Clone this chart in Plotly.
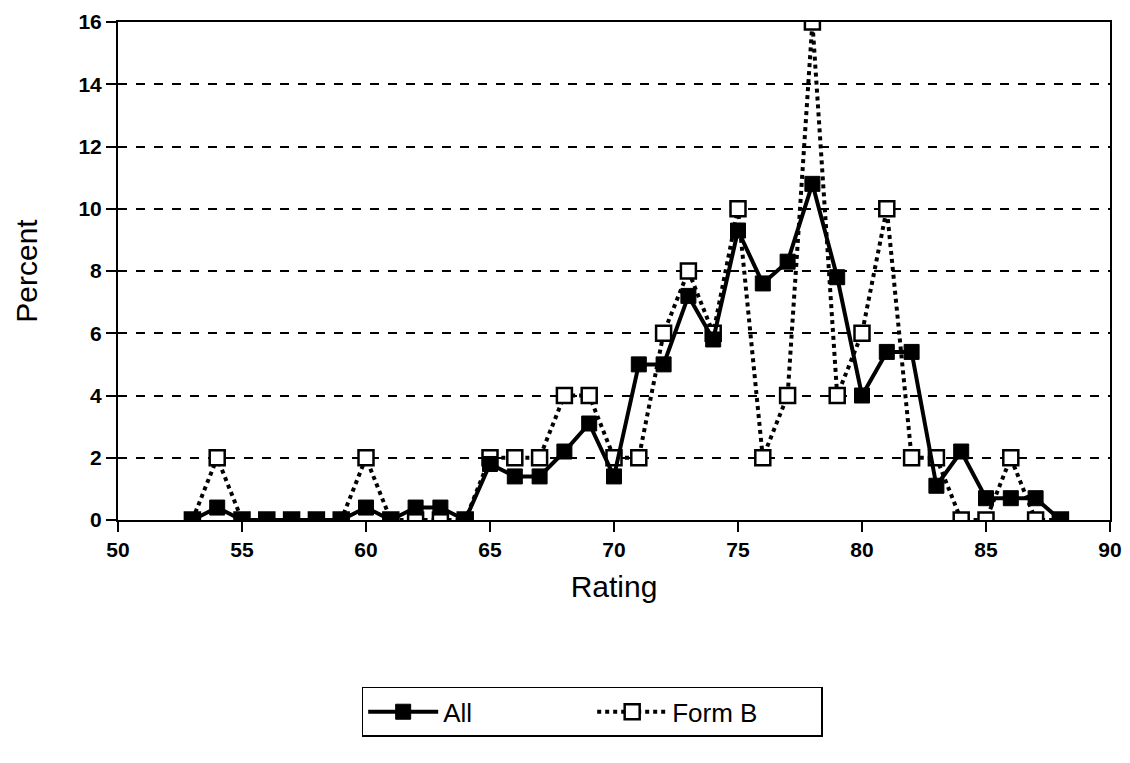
import plotly.graph_objects as go

ratings = list(range(53, 89))
all_pct = [0, 0.4, 0, 0, 0, 0, 0, 0.4, 0, 0.4, 0.4, 0, 1.8, 1.4, 1.4, 2.2, 3.1, 1.4,
           5.0, 5.0, 7.2, 5.8, 9.3, 7.6, 8.3, 10.8, 7.8, 4.0, 5.4, 5.4, 1.1, 2.2,
           0.7, 0.7, 0.7, 0]
formb_pct = [0, 2, 0, 0, 0, 0, 0, 2, 0, 0, 0, 0, 2, 2, 2, 4, 4, 2,
             2, 6, 8, 6, 10, 2, 4, 16, 4, 6, 10, 2, 2, 0,
             0, 2, 0, 0]
x_ticks = [50, 55, 60, 65, 70, 75, 80, 85, 90]
y_ticks = [0, 2, 4, 6, 8, 10, 12, 14, 16]

fig = go.Figure()
fig.add_trace(go.Scatter(
    x=ratings, y=formb_pct, name="Form B", mode="lines+markers",
    line=dict(color="black", width=4, dash="dot"),
    marker=dict(symbol="square", size=15, color="white",
                line=dict(color="black", width=2.5)),
))
fig.add_trace(go.Scatter(
    x=ratings, y=all_pct, name="All", mode="lines+markers",
    line=dict(color="black", width=4),
    marker=dict(symbol="square", size=15, color="black",
                line=dict(color="black", width=1)),
))

fig.update_layout(
    width=1114, height=747,
    margin=dict(l=110, r=12, t=14, b=235),
    paper_bgcolor="white", plot_bgcolor="white",
    font=dict(family="Liberation Sans, Arial, sans-serif", color="black"),
    showlegend=True,
    legend=dict(
        orientation="h", x=0.478, xanchor="center", y=-0.335, yanchor="top",
        bordercolor="black", borderwidth=1.5, bgcolor="white",
        font=dict(size=26), traceorder="reversed",
        itemwidth=70,
        entrywidth=144, entrywidthmode="pixels",
    ),
    xaxis=dict(
        range=[50, 90], tickvals=x_ticks, ticks="outside", ticklen=10,
        tickwidth=1.5, tickcolor="black", showline=True, linecolor="black",
        linewidth=2, mirror=True, showgrid=False, zeroline=False,
        automargin=False,
        tickfont=dict(size=21, weight="bold"),
        title=dict(text="Rating", font=dict(size=30), standoff=16),
    ),
    yaxis=dict(
        range=[0, 16], tickvals=y_ticks, ticks="outside", ticklen=10,
        tickwidth=1.5, tickcolor="black", showline=True, linecolor="black",
        linewidth=2, mirror=True, showgrid=True, gridcolor="black",
        gridwidth=1.5, griddash="dash", zeroline=False,
        automargin=False,
        tickfont=dict(size=21, weight="bold"),
        title=dict(text="Percent", font=dict(size=30), standoff=32),
    ),
)

fig.write_html("out.html")
